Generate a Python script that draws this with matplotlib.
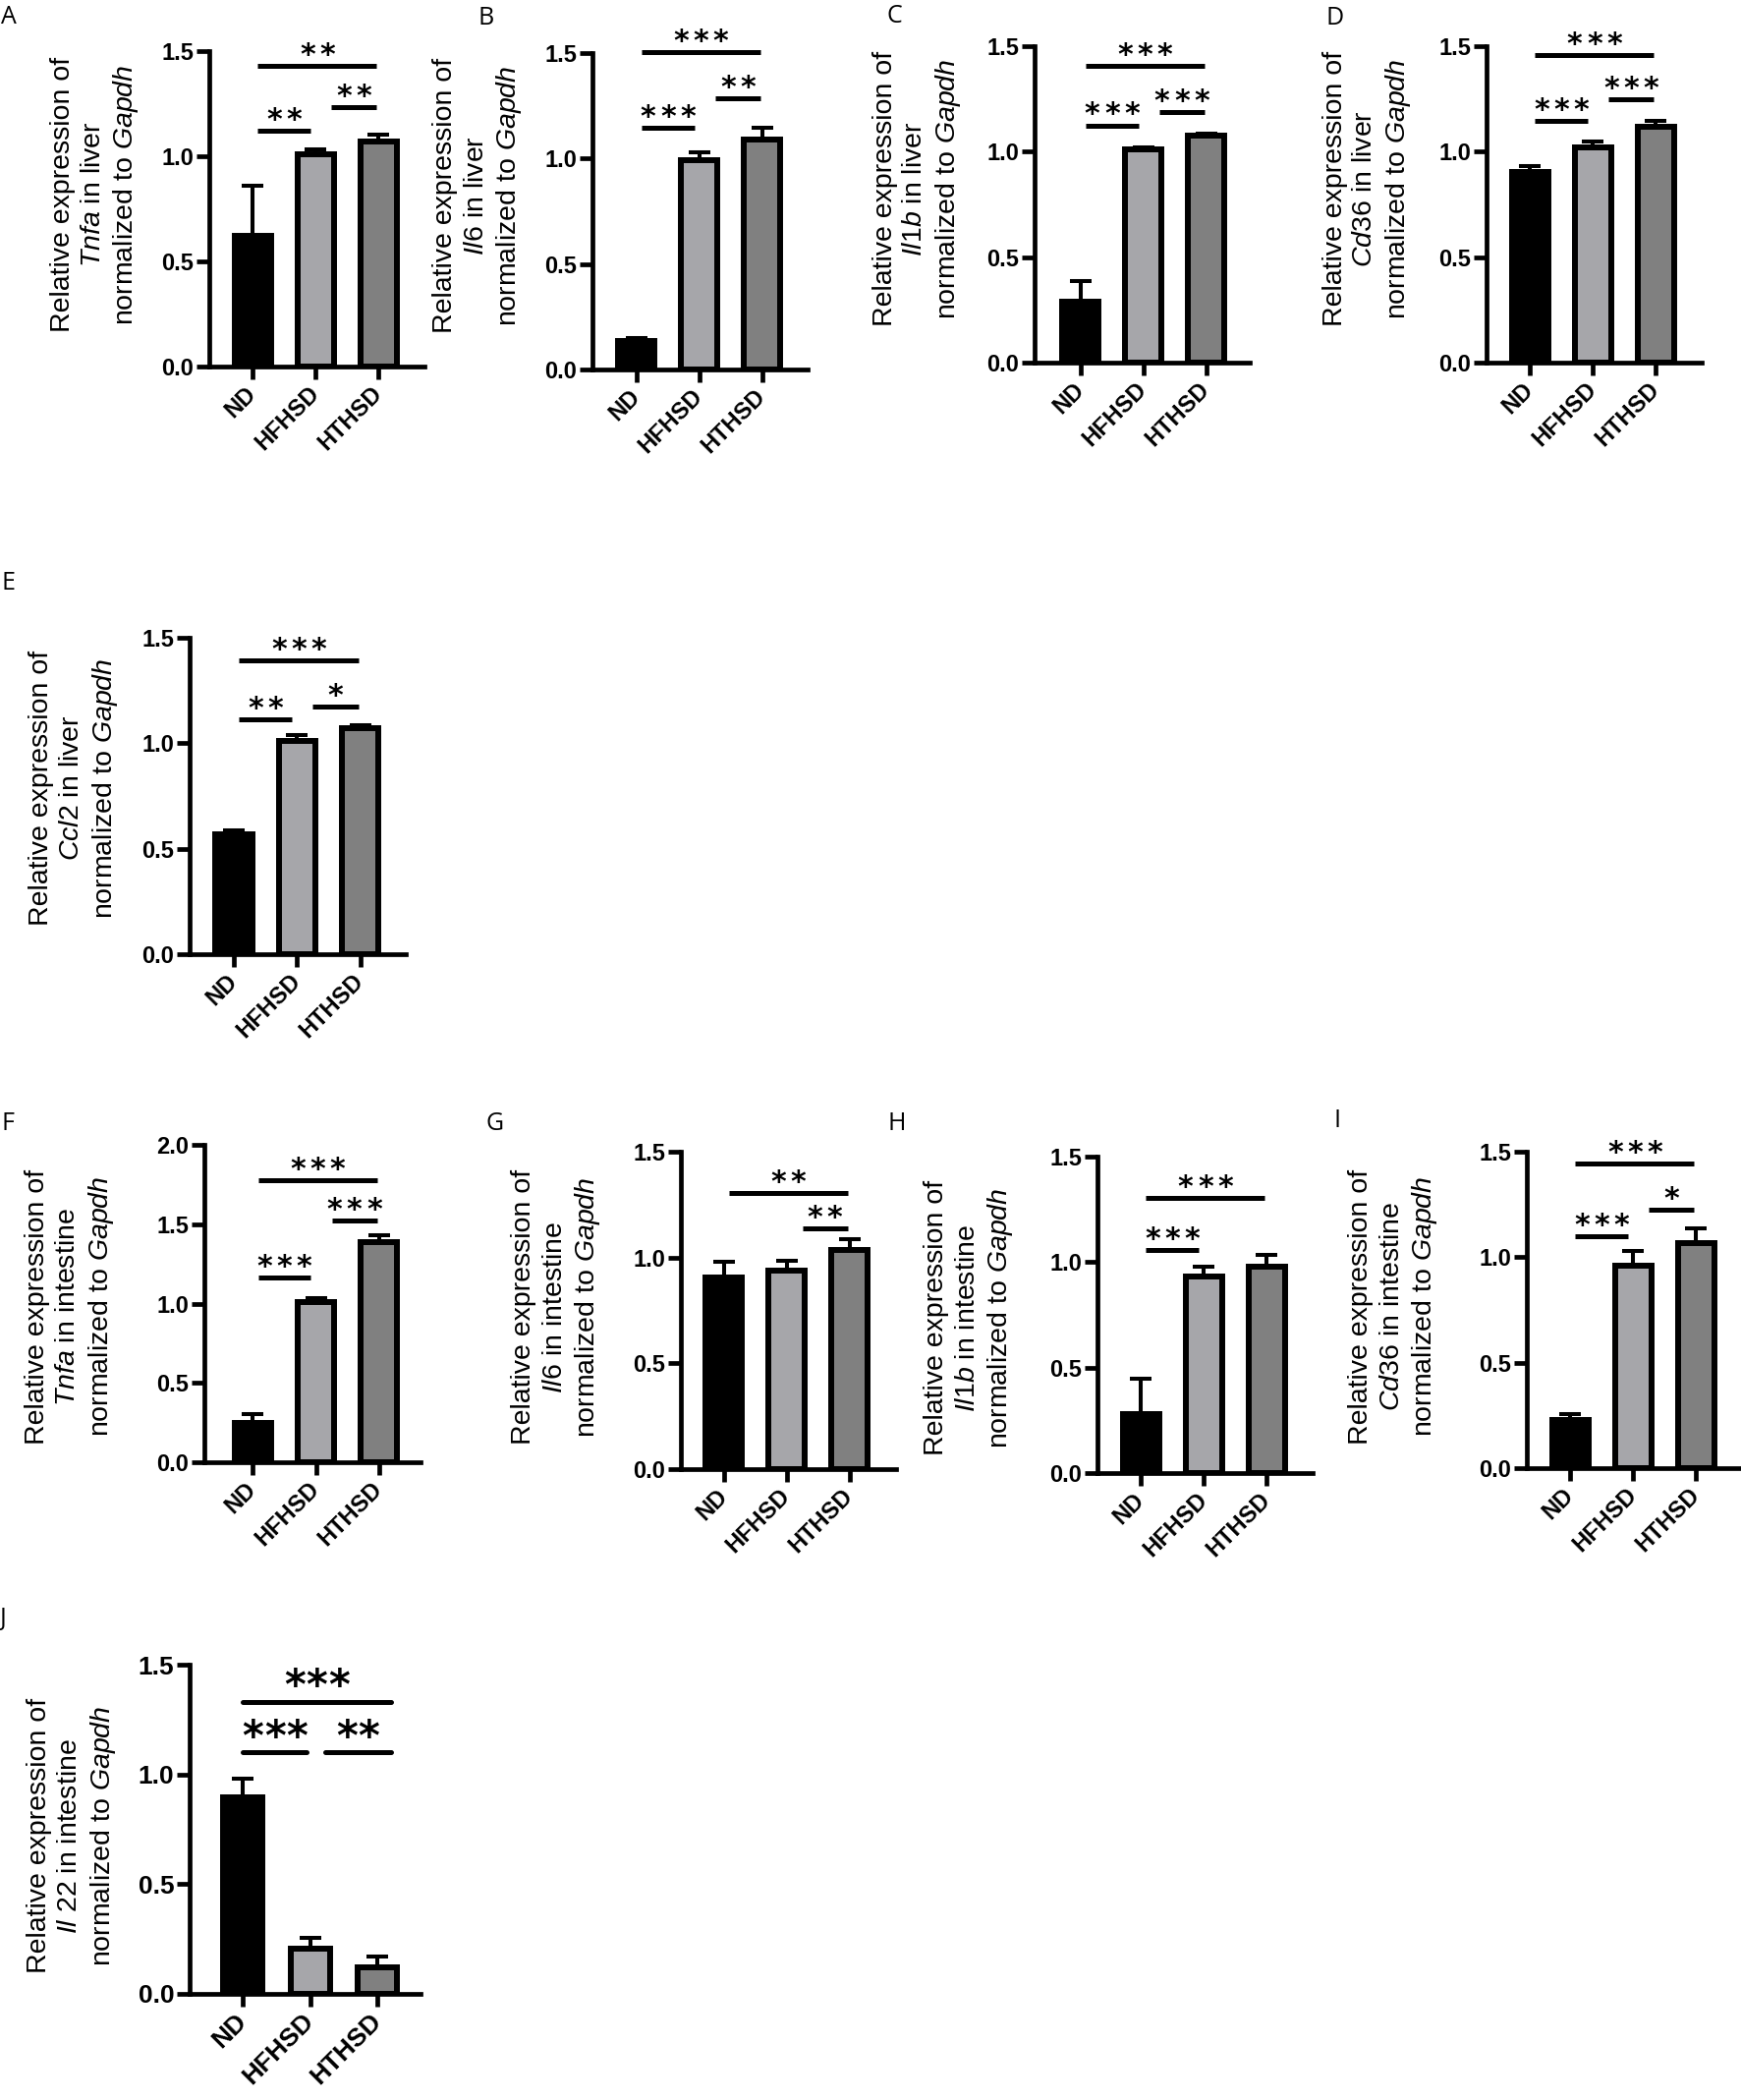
import matplotlib
matplotlib.use('Agg')
import matplotlib.pyplot as plt

plt.rcParams['font.family'] = ['Liberation Sans', 'DejaVu Sans']
plt.rcParams['mathtext.fontset'] = 'custom'
plt.rcParams['mathtext.it'] = 'Liberation Sans:italic'
plt.rcParams['mathtext.rm'] = 'Liberation Sans'

# grupos de dieta
groups = ['ND', 'HFHSD', 'HTHSD']

# higado
tnfa_liver = [0.62, 1.01, 1.07]
tnfa_liver_err = [0.24, 0.025, 0.035]
il6_liver = [0.135, 0.99, 1.09]
il6_liver_err = [0.012, 0.04, 0.055]
il1b_liver = [0.29, 1.01, 1.075]
il1b_liver_err = [0.095, 0.012, 0.01]
cd36_liver = [0.905, 1.02, 1.12]
cd36_liver_err = [0.027, 0.03, 0.028]
ccl2_liver = [0.57, 1.01, 1.07]
ccl2_liver_err = [0.015, 0.03, 0.015]

# intestino
tnfa_int = [0.245, 1.01, 1.39]
tnfa_int_err = [0.06, 0.025, 0.04]
il6_int = [0.905, 0.94, 1.035]
il6_int_err = [0.075, 0.045, 0.05]
il1b_int = [0.28, 0.93, 0.98]
il1b_int_err = [0.165, 0.05, 0.055]
cd36_int = [0.23, 0.96, 1.065]
cd36_int_err = [0.025, 0.07, 0.07]
il22_int = [0.895, 0.205, 0.12]
il22_int_err = [0.085, 0.05, 0.05]

# comparaciones (i, j, altura, estrellas)
sig_a = [(0, 1, 1.12, '**'), (1, 2, 1.235, '**'), (0, 2, 1.43, '**')]
sig_b = [(0, 1, 1.146, '***'), (1, 2, 1.286, '**'), (0, 2, 1.506, '***')]
sig_c = [(0, 1, 1.125, '***'), (1, 2, 1.188, '***'), (0, 2, 1.405, '***')]
sig_d = [(0, 1, 1.146, '***'), (1, 2, 1.247, '***'), (0, 2, 1.456, '***')]
sig_e = [(0, 1, 1.112, '**'), (1, 2, 1.174, '*'), (0, 2, 1.394, '***')]
sig_f = [(0, 1, 1.165, '***'), (1, 2, 1.525, '***'), (0, 2, 1.779, '***')]
sig_g = [(1, 2, 1.139, '**'), (0, 2, 1.306, '**')]
sig_h = [(0, 1, 1.057, '***'), (0, 2, 1.306, '***')]
sig_i = [(0, 1, 1.10, '***'), (1, 2, 1.227, '*'), (0, 2, 1.445, '***')]
sig_j = [(0, 1, 1.10, '***'), (1, 2, 1.10, '**'), (0, 2, 1.332, '***')]

ylabels = {
    'A': 'Relative expression of\n$\\mathit{Tnfa}$ in liver\nnormalized to $\\mathit{Gapdh}$',
    'B': 'Relative expression of\n$\\mathit{Il6}$ in liver\nnormalized to $\\mathit{Gapdh}$',
    'C': 'Relative expression of\n$\\mathit{Il1b}$ in liver\nnormalized to $\\mathit{Gapdh}$',
    'D': 'Relative expression of\n$\\mathit{Cd36}$ in liver\nnormalized to $\\mathit{Gapdh}$',
    'E': 'Relative expression of\n$\\mathit{Ccl2}$ in liver\nnormalized to $\\mathit{Gapdh}$',
    'F': 'Relative expression of\n$\\mathit{Tnfa}$ in intestine\nnormalized to $\\mathit{Gapdh}$',
    'G': 'Relative expression of\n$\\mathit{Il6}$ in intestine\nnormalized to $\\mathit{Gapdh}$',
    'H': 'Relative expression of\n$\\mathit{Il1b}$ in intestine\nnormalized to $\\mathit{Gapdh}$',
    'I': 'Relative expression of\n$\\mathit{Cd36}$ in intestine\nnormalized to $\\mathit{Gapdh}$',
    'J': 'Relative expression of\n$\\mathit{Il}$ 22 in intestine\nnormalized to $\\mathit{Gapdh}$',
}

yticks_15 = [0.0, 0.5, 1.0, 1.5]
yticks_20 = [0.0, 0.5, 1.0, 1.5, 2.0]

bar_colors = ['#000000', '#a6a6aa', '#808080']

W, H = 1772, 2137
fig = plt.figure(figsize=(W / 100, H / 100), dpi=100)


def panel(letter, means, errs, sig, yticks, left, y0, ytop, width, xlim,
          lab_dx, lab_y, letter_xy, big=False):
    ax = fig.add_axes([left / W, 1 - y0 / H, width / W, (y0 - ytop) / H])
    x = range(len(groups))
    ax.bar(x, means, width=0.58, color=bar_colors, edgecolor='black',
           linewidth=4.3, zorder=3)
    ax.errorbar(x, means, yerr=[[0] * len(errs), errs], fmt='none',
                ecolor='black', elinewidth=2.9, capsize=7.9, capthick=2.9,
                zorder=2)
    ax.set_xlim(*xlim)
    ax.set_ylim(0, yticks[-1])
    ax.set_yticks(yticks)
    ax.set_yticklabels(['%.1f' % t for t in yticks])
    ax.set_xticks(list(x))
    fs_tick = 19 if big else 17
    ax.set_xticklabels(groups, rotation=45, ha='right', va='center',
                       rotation_mode='anchor', fontweight='bold',
                       fontsize=fs_tick)
    for t in ax.get_yticklabels():
        t.set_fontweight('bold')
        t.set_fontsize(fs_tick)
    for s in ['top', 'right']:
        ax.spines[s].set_visible(False)
    for s in ['left', 'bottom']:
        ax.spines[s].set_linewidth(3.4)
    ax.tick_params(axis='both', length=9.4, width=3.4, direction='out')
    ax.tick_params(axis='y', pad=2)
    ax.tick_params(axis='x', pad=8)
    ax.set_ylabel(ylabels[letter], fontsize=20.5, linespacing=1.25)
    ax.yaxis.set_label_coords(-lab_dx / width, lab_y)

    # barras de significancia
    for i, j, y, txt in sig:
        if big:
            x1 = i + (0.22 if i == 1 else 0.0)
            x2 = j + (0.2 if j == 2 else -0.05)
        else:
            x1 = i + (0.25 if i == 1 else 0.08)
            x2 = j - (0.08 if j == 1 else 0.03)
        ax.plot([x1, x2], [y, y], color='black', lw=3.6, clip_on=False,
                solid_capstyle='round' if big else 'butt', zorder=4)
        n = len(txt)
        step = 16 if big else 14.5
        for k in range(n):
            dx = (k - (n - 1) / 2) * step
            ax.annotate('*', ((x1 + x2) / 2, y), xytext=(dx, 1.5),
                        textcoords='offset points', ha='center',
                        va='baseline', fontsize=30 if big else 21.5,
                        fontweight='heavy', family='DejaVu Sans',
                        annotation_clip=False)
    fig.text(letter_xy[0] / W, 1 - letter_xy[1] / H, letter, fontsize=18,
             family='Open Sans', va='top', ha='left')
    return ax


panel('A', tnfa_liver, tnfa_liver_err, sig_a, yticks_15, 213, 373, 52, 219,
      (-0.69, 2.73), 70, 0.545, (1, 5))
panel('B', il6_liver, il6_liver_err, sig_b, yticks_15, 603, 376, 54, 219,
      (-0.70, 2.72), 70, 0.55, (486, 6))
panel('C', il1b_liver, il1b_liver_err, sig_c, yticks_15, 1053, 369, 47, 219,
      (-0.73, 2.69), 73, 0.55, (903, 4))
panel('D', cd36_liver, cd36_liver_err, sig_d, yticks_15, 1513, 369, 47, 219,
      (-0.69, 2.73), 75, 0.55, (1349, 6))
panel('E', ccl2_liver, ccl2_liver_err, sig_e, yticks_15, 193, 971, 649, 220,
      (-0.70, 2.72), 71, 0.525, (1, 581))
panel('F', tnfa_int, tnfa_int_err, sig_f, yticks_20, 208, 1488, 1165, 220,
      (-0.77, 2.66), 90, 0.49, (1, 1131))
panel('G', il6_int, il6_int_err, sig_g, yticks_15, 693, 1495, 1172, 219,
      (-0.68, 2.74), 80, 0.51, (495, 1131))
panel('H', il1b_int, il1b_int_err, sig_h, yticks_15, 1117, 1499, 1177, 219,
      (-0.69, 2.73), 84, 0.49, (903, 1131))
panel('I', cd36_int, cd36_int_err, sig_i, yticks_15, 1554, 1494, 1172, 216,
      (-0.69, 2.68), 89, 0.51, (1358, 1128))
panel('J', il22_int, il22_int_err, sig_j, yticks_15, 193, 2029, 1694, 235,
      (-0.79, 2.64), 73, 0.48, (0, 1635), big=True)

fig.savefig('out.png', dpi=100)
